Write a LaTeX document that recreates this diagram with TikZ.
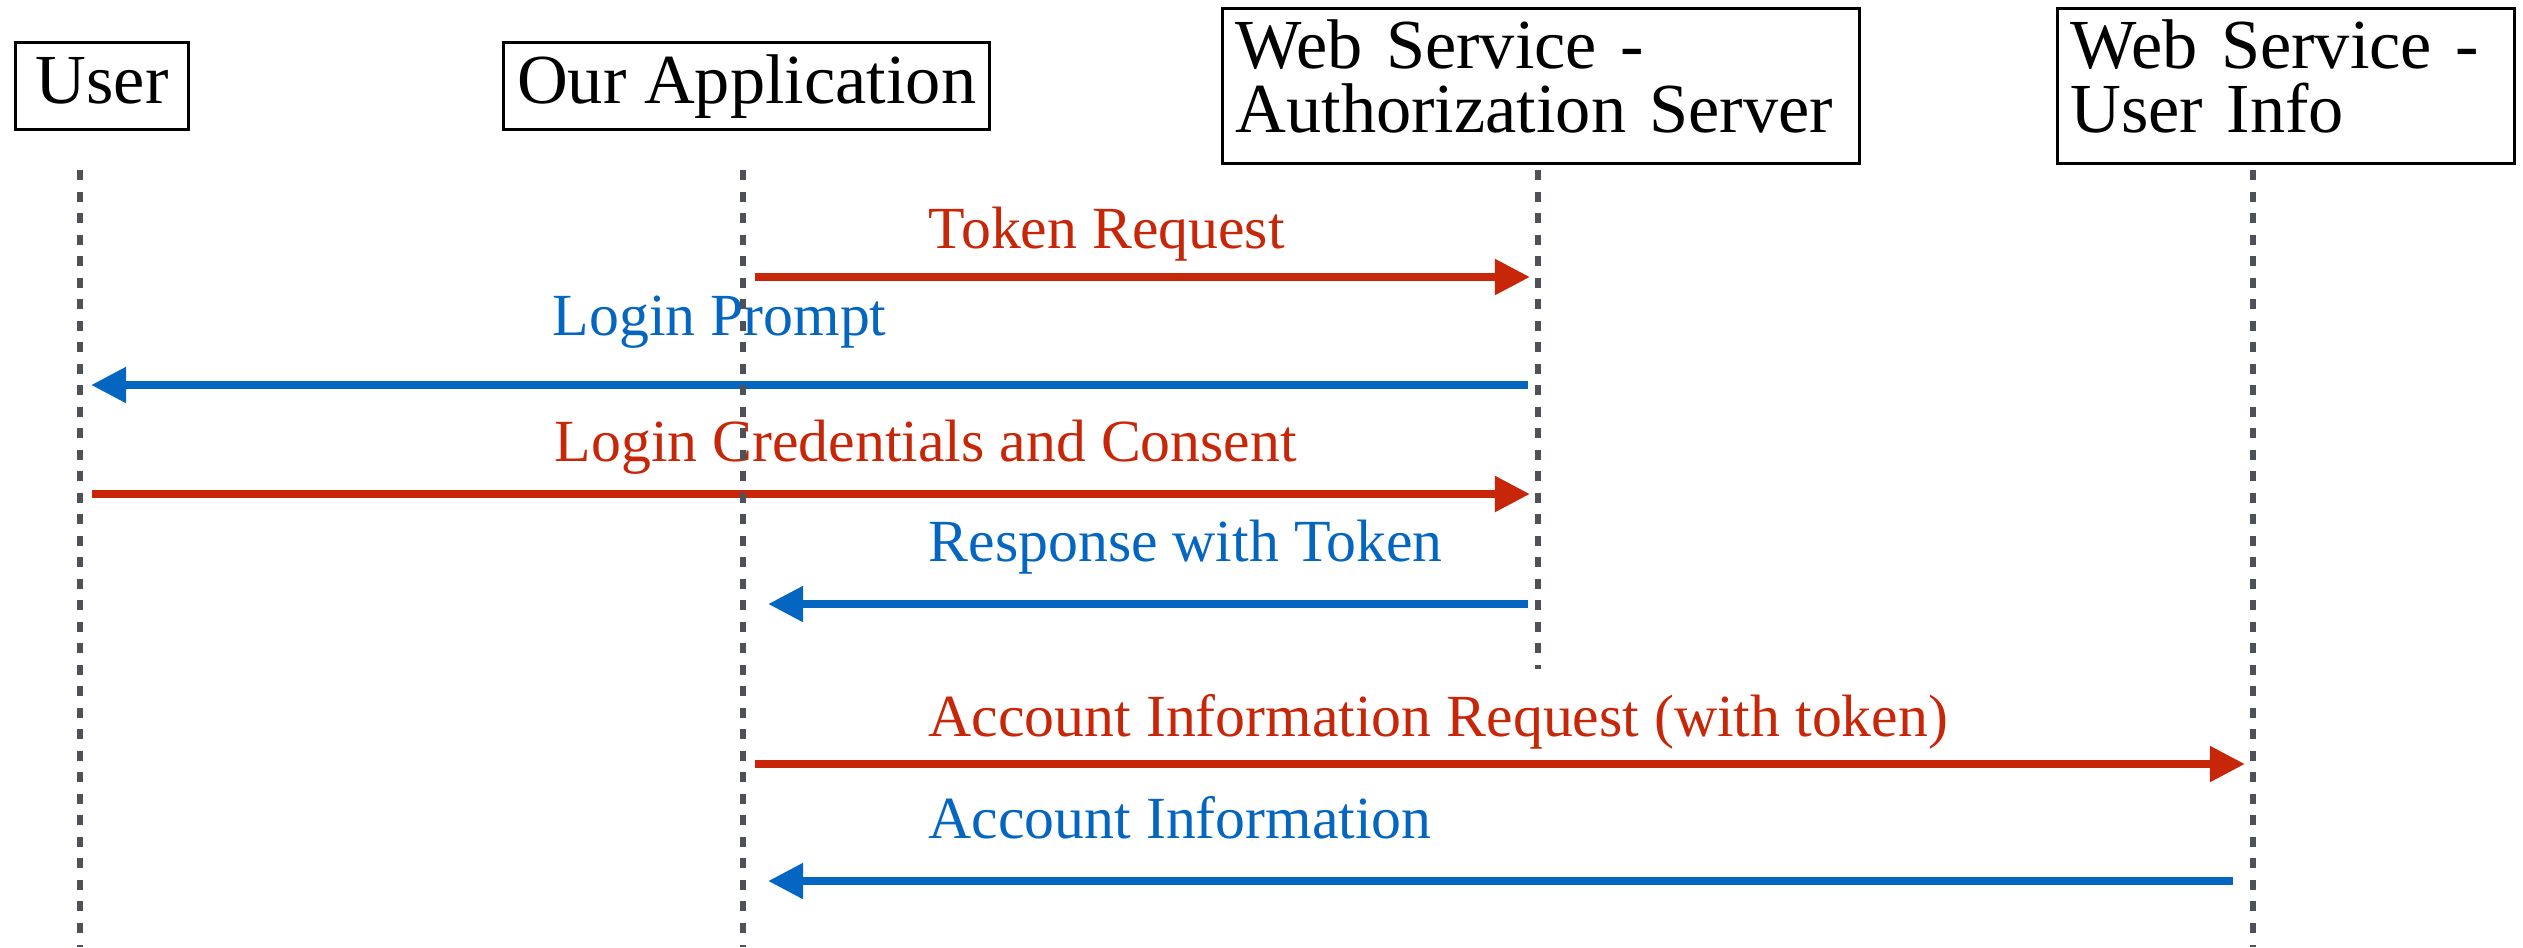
\documentclass[tikz,border=0pt]{standalone}
\usepackage{fontspec}
\setmainfont{Liberation Serif}
\usepackage{xcolor}
\definecolor{ReqRed}{RGB}{200,38,8}
\definecolor{RespBlue}{RGB}{4,102,192}
\definecolor{LineGray}{RGB}{78,82,88}
\usetikzlibrary{arrows.meta}

\tikzset{
	participant/.style={draw, line width=0.03cm, anchor=north west, inner xsep=0.13cm, inner ysep=0.1cm, font=\fontsize{20}{18.2}\selectfont},
	lifeline/.style={LineGray, line width=0.052cm, dash pattern=on 0.1cm off 0.115cm},
	request/.style={ReqRed, line width=0.08cm, -{Triangle[length=0.35cm,width=0.34cm]}, shorten <=0.12cm, shorten >=0.08cm},
	response/.style={RespBlue, line width=0.08cm, -{Triangle[length=0.35cm,width=0.34cm]}, shorten <=0.1cm, shorten >=0.11cm},
	msglabel/.style={anchor=base west, inner sep=0pt, font=\fontsize{17}{20}\selectfont},
}

\begin{document}
\begin{tikzpicture}[x=0.01cm, y=-0.01cm]
	\useasboundingbox (0,0) rectangle (2523,947);

	% participants
	\node[participant, minimum width=1.73cm, text height=0.51cm, text depth=0.16cm] (user) at (14,41) {User};
	\node[participant, minimum width=4.86cm, text height=0.51cm, text depth=0.16cm] (app) at (502,41) {Our Application};
	\node[participant, text width=6.11cm, align=left, text height=0.5cm, text depth=0.85cm] (auth) at (1221,7) {Web Service -\\Authorization Server};
	\node[participant, text width=4.31cm, align=left, text height=0.5cm, text depth=0.85cm] (info) at (2056,7) {Web Service -\\User Info};

	\coordinate (userTop) at (80,170);
	\coordinate (appTop) at (743,170);
	\coordinate (authTop) at (1538,170);
	\coordinate (infoTop) at (2253,170);
	\coordinate (userEnd) at (80,947);
	\coordinate (appEnd) at (743,947);
	\coordinate (authEnd) at (1538,669);
	\coordinate (infoEnd) at (2253,947);

	% messages
	\draw[request] (appTop |- 0,277) -- (authTop |- 0,277);
	\node[msglabel, ReqRed] (tokenReq) at (928,248) {Token Request};

	\draw[response] (authTop |- 0,385) -- (userTop |- 0,385);
	\node[msglabel, RespBlue] (loginPrompt) at (552,335) {Login Prompt};

	\draw[request] (userTop |- 0,494) -- (authTop |- 0,494);
	\node[msglabel, ReqRed] (loginCred) at (554,461) {Login Credentials and Consent};

	\draw[response, shorten >=0.25cm] (authTop |- 0,604) -- (appTop |- 0,604);
	\node[msglabel, RespBlue] (tokenResp) at (928,561) {Response with Token};

	\draw[request] (appTop |- 0,764) -- (infoTop |- 0,764);
	\node[msglabel, ReqRed] (acctReq) at (928,736) {Account Information Request (with token)};

	\draw[response, shorten <=0.2cm, shorten >=0.25cm] (infoTop |- 0,881) -- (appTop |- 0,881);
	\node[msglabel, RespBlue] (acctInfo) at (928,838) {Account Information};

	% lifelines
	\draw[lifeline] (userTop) -- (userEnd);
	\draw[lifeline] (appTop) -- (appEnd);
	\draw[lifeline] (authTop) -- (authEnd);
	\draw[lifeline] (infoTop) -- (infoEnd);
\end{tikzpicture}
\end{document}
